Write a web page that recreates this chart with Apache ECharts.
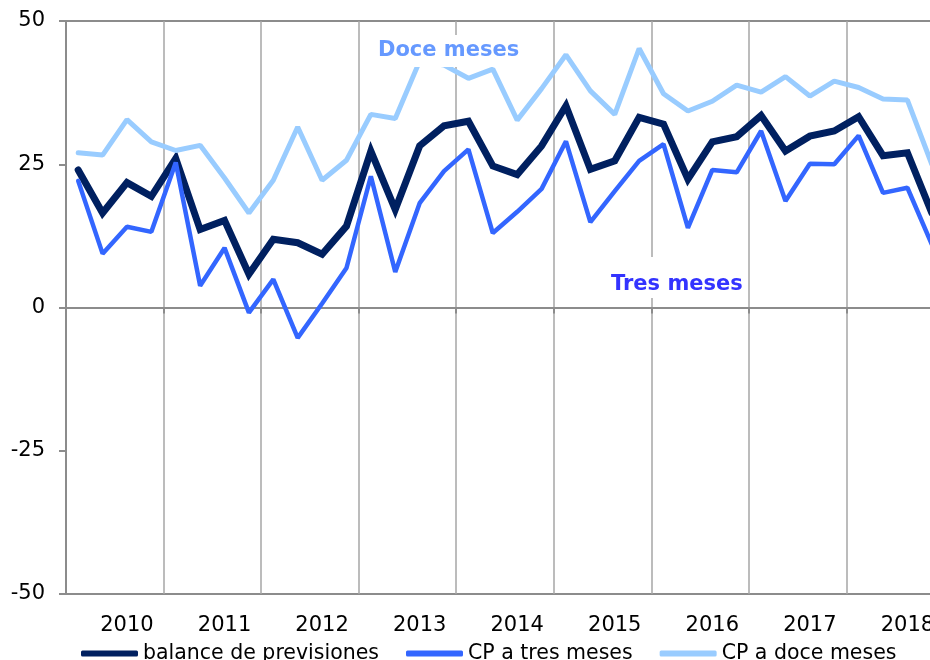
<!DOCTYPE html>
<html>
<head>
<meta charset="utf-8">
<script src="https://cdn.jsdelivr.net/npm/echarts@6/dist/echarts.min.js"></script>
<style>
  html, body { margin: 0; padding: 0; background: #fff; overflow: hidden; }
  /* the plot runs a little past the right edge of the picture */
  #chart { width: 944px; height: 660px; }
</style>
</head>
<body>
<div id="chart"></div>
<script>
// years shown on the axis, each split in four quarters
const years = ['2010', '2011', '2012', '2013', '2014', '2015', '2016', '2017', '2018'];
const quarters = [];
years.forEach(y => { for (let q = 1; q <= 4; q++) quarters.push(y + ' T' + q); });

const yTicks = [-50, -25, 0, 25, 50];

const balance = [
  24.0, 16.5, 21.8, 19.4, 26.0, 13.6, 15.2, 5.8, 11.9, 11.3, 9.3, 14.2,
  27.3, 17.1, 28.2, 31.7, 32.5, 24.7, 23.2, 28.2, 35.2, 24.1, 25.6, 33.2,
  32.0, 22.4, 28.9, 29.8, 33.5, 27.3, 29.9, 30.8, 33.3, 26.5, 27.0, 16.5
];
const tresMeses = [
  22.1, 9.4, 14.1, 13.2, 25.3, 3.8, 10.4, -0.9, 4.9, -5.3, 0.7, 6.9,
  22.9, 6.2, 18.2, 23.8, 27.6, 13.0, 16.7, 20.7, 29.0, 14.9, 20.3, 25.6,
  28.5, 13.9, 24.0, 23.6, 30.8, 18.6, 25.1, 25.0, 30.0, 20.0, 20.9, 11.0
];
const doceMeses = [
  27.0, 26.6, 32.8, 28.9, 27.4, 28.3, 22.6, 16.5, 22.2, 31.5, 22.2, 25.7,
  33.7, 33.0, 43.0, 42.3, 40.0, 41.6, 32.7, 38.2, 44.1, 37.8, 33.7, 45.2,
  37.3, 34.3, 36.0, 38.8, 37.6, 40.3, 36.9, 39.5, 38.4, 36.4, 36.2, 25.0
];

const names = ['balance de previsiones', 'CP a tres meses', 'CP a doce meses'];

const chart = echarts.init(document.getElementById('chart'));
const font = 'DejaVu Sans, Verdana, sans-serif';

chart.setOption({
  animation: false,
  textStyle: { fontFamily: font },
  grid: {
    left: 66, right: 0, top: 21, bottom: 66,
    show: true, borderColor: '#8c8c8c', borderWidth: 2
  },
  legend: {
    data: names,
    left: 76, top: 638,
    icon: 'roundRect',
    itemWidth: 57, itemHeight: 6, itemGap: 27,
    textStyle: { fontSize: 20.5, color: '#000', fontFamily: font }
  },
  xAxis: [
    {
      // year labels under the frame + vertical year gridlines
      type: 'category',
      data: quarters,
      position: 'bottom',
      boundaryGap: true,
      axisLine: { show: false, onZero: false },
      axisTick: { show: false },
      axisLabel: {
        interval: (i) => i % 4 === 2,
        formatter: (v) => v.slice(0, 4),
        fontSize: 21, color: '#000', margin: 21
      },
      splitLine: {
        show: true,
        interval: (i) => i % 4 === 0,
        lineStyle: { color: '#a6a6a6', width: 1.5 }
      }
    },
    {
      // axis line through zero
      type: 'category',
      data: quarters,
      position: 'bottom',
      boundaryGap: true,
      axisLine: { show: true, onZero: true, lineStyle: { color: '#8c8c8c', width: 2 } },
      axisTick: { show: true, interval: (i) => i % 4 === 0, length: 6, lineStyle: { color: '#8c8c8c', width: 2 } },
      axisLabel: { show: false },
      splitLine: { show: false }
    }
  ],
  yAxis: {
    type: 'value',
    min: yTicks[0], max: yTicks[yTicks.length - 1], interval: 25,
    axisLine: { show: true, lineStyle: { color: '#8c8c8c', width: 2 } },
    axisTick: { show: true, length: 7, lineStyle: { color: '#8c8c8c', width: 2 } },
    axisLabel: { fontSize: 21, color: '#000', margin: 21 },
    splitLine: { show: false }
  },
  series: [
    {
      name: names[0], type: 'line', data: balance, xAxisIndex: 0,
      symbol: 'none', color: '#002060',
      lineStyle: { width: 7, color: '#002060', cap: 'round', join: 'miter' }
    },
    {
      name: names[1], type: 'line', data: tresMeses, xAxisIndex: 0,
      symbol: 'none', color: '#3366ff',
      lineStyle: { width: 4.5, color: '#3366ff', cap: 'round' }
    },
    {
      name: names[2], type: 'line', data: doceMeses, xAxisIndex: 0,
      symbol: 'none', color: '#99ccff',
      lineStyle: { width: 5, color: '#99ccff', cap: 'round' }
    }
  ],
  graphic: [
    {
      type: 'text', left: 374, top: 35, z: 100,
      style: {
        text: 'Doce meses', fill: '#6699ff',
        font: 'bold 21px ' + font,
        backgroundColor: '#fff', padding: [5, 4, 6, 4]
      }
    },
    {
      type: 'text', left: 607, top: 257, z: 100,
      style: {
        text: 'Tres meses', fill: '#3333ff',
        font: 'bold 21px ' + font,
        backgroundColor: '#fff', padding: [17, 4, 3, 4]
      }
    }
  ]
});
</script>
</body>
</html>
